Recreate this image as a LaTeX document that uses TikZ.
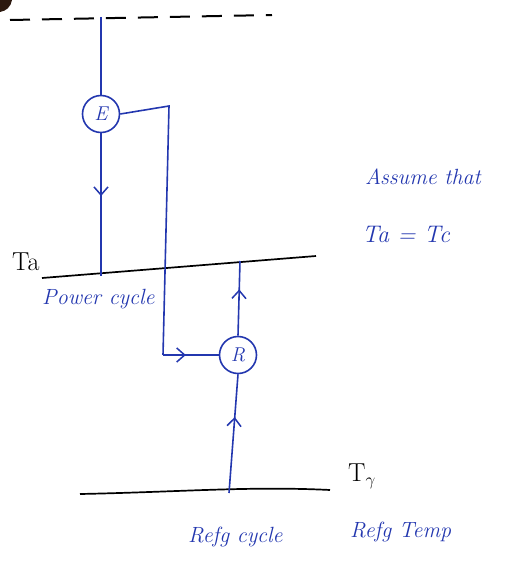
\documentclass[tikz,border=0pt]{standalone}
\usetikzlibrary{arrows.meta,decorations.markings}
\definecolor{ink}{RGB}{35,55,175}
\definecolor{blob}{RGB}{45,25,15}
\tikzset{
  flow/.style={draw=ink, line width=1.6pt},
  level/.style={draw=black, line width=1.7pt},
  unit/.style={circle, draw=ink, line width=1.6pt, minimum size=37pt, inner sep=0pt, text=ink, font=\fontsize{20}{22}\selectfont\itshape},
  midarrow/.style={postaction={decorate}, decoration={markings, mark=at position #1 with {\arrow[ink, line width=1.5pt]{Straight Barb[length=8pt, width=14pt]}}}},
  bluetext/.style={text=ink, font=\fontsize{22}{24}\selectfont\itshape, inner sep=0pt},
  blacktext/.style={text=black, font=\fontsize{26}{28}\selectfont, inner sep=0pt}
}
\begin{document}
\begin{tikzpicture}[x=1pt,y=-1pt]
\useasboundingbox (0,0) rectangle (525,586);
% dark blob at top-left corner
\fill[blob] (0,0) -- (12,0) .. controls (11,7) and (6,11) .. (0,12) -- cycle;
% top dashed line
\coordinate (dl) at (10,20);
\coordinate (dr) at (272,15);
\draw[level, line width=2pt, dash pattern=on 20pt off 12pt] (dl) -- (dr);
% levels
\coordinate (tal) at (42,278);
\coordinate (tar) at (316,256);
\draw[level] (tal) -- (tar);
\coordinate (bl) at (80,494);
\coordinate (br) at (330,490);
\draw[level] (bl) .. controls (180,492) and (250,486) .. (br);
% engine E
\node[unit] (E) at (101,114) {E};
\coordinate (etop) at (101,17);
\coordinate (ebot) at (101,276);
\draw[flow] (etop) -- (E.north);
\draw[flow, midarrow=0.44] (E.south) -- (ebot);
% work line from E to R
\node[unit] (R) at (238,355) {R};
\coordinate (w1) at (169,106);
\coordinate (w2) at (163,355);
\draw[flow] (E.east) -- (w1) -- (w2);
\draw[flow, midarrow=0.41] (w2) -- (R.west);
% refrigerator line
\coordinate (rtop) at (240,261);
\coordinate (rbot) at (229,493);
\draw[flow, midarrow=0.62] (R.north) -- (rtop);
\draw[flow, midarrow=0.64] (rbot) -- (R.south);
% labels
\node[blacktext, anchor=west] (ta) at (12,262) {Ta};
\node[bluetext, anchor=west] (pc) at (42,299) {Power cycle};
\node[bluetext, anchor=west] (as) at (365,177) {Assume that};
\node[bluetext, anchor=west, font=\fontsize{24}{26}\selectfont\itshape] (eq) at (362,234) {Ta = Tc};
\node[blacktext, anchor=west] (tg) at (348,476) {T$_{\gamma}$};
\node[bluetext, anchor=west] (rc) at (188,537) {Refg cycle};
\node[bluetext, anchor=west] (rt) at (350,532) {Refg Temp};
\end{tikzpicture}
\end{document}
